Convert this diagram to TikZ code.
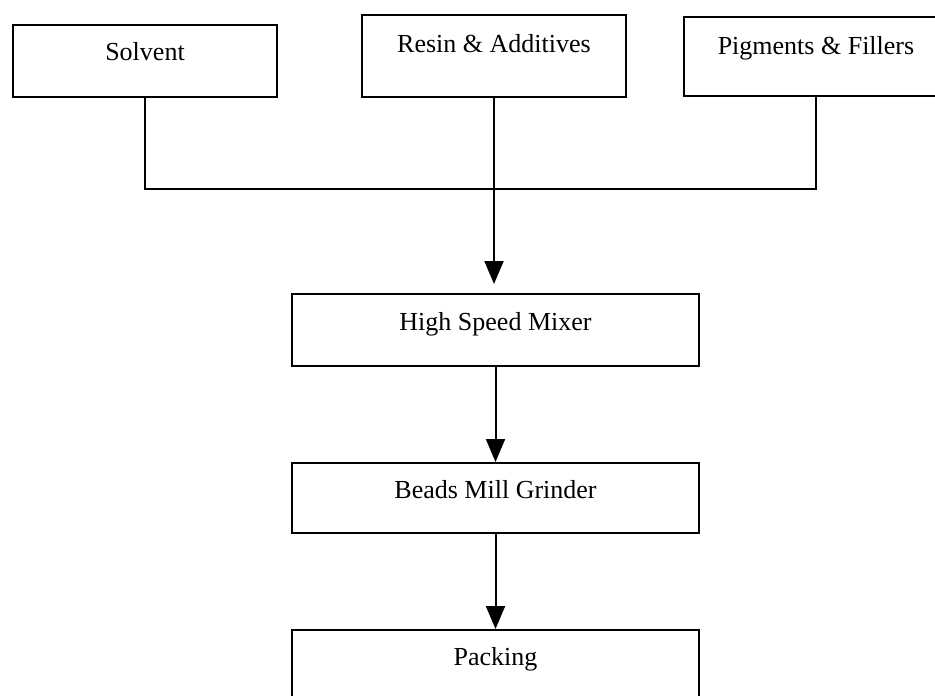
\documentclass[tikz,border=0pt]{standalone}
\usepackage{fontspec}
\setmainfont{Liberation Serif}
\usetikzlibrary{arrows.meta}

\begin{document}
\begin{tikzpicture}[x=0.5pt,y=-0.5pt,
  stage/.style={draw, line width=1pt, inner sep=0pt, text height=9pt, text depth=9pt, font=\fontsize{13pt}{15pt}\selectfont},
  flow/.style={line width=1pt, -{Triangle[length=11.5pt,width=9.5pt]}}]
\useasboundingbox (0,0) rectangle (935,695);
\clip (0,0) rectangle (935,695);
% raw materials
\node[stage, minimum width=132pt, minimum height=36pt] (solvent) at (145,61) {Solvent};
\node[stage, minimum width=132pt, minimum height=41pt, text depth=12pt] (resin) at (494,56) {Resin \& Additives};
\node[stage, minimum width=132pt, minimum height=39.5pt, text depth=11pt] (pigments) at (816,56.5) {Pigments \& Fillers};
% process steps
\node[stage, minimum width=203.5pt, minimum height=36pt] (mixer) at (495.5,330) {High Speed Mixer};
\node[stage, minimum width=203.5pt, minimum height=35pt] (grinder) at (495.5,498) {Beads Mill Grinder};
\node[stage, minimum width=203.5pt, minimum height=35pt] (packing) at (495.5,665) {Packing};
% feed lines
\coordinate (join) at (494,189);
\draw[line width=1pt] (solvent.south) |- (join) -| (pigments.south);
\draw[flow, shorten >=4.5pt] (resin.south) -- (resin.south |- mixer.north);
\draw[flow] (mixer.south) -- (grinder.north);
\draw[flow] (grinder.south) -- (packing.north);
\end{tikzpicture}
\end{document}
